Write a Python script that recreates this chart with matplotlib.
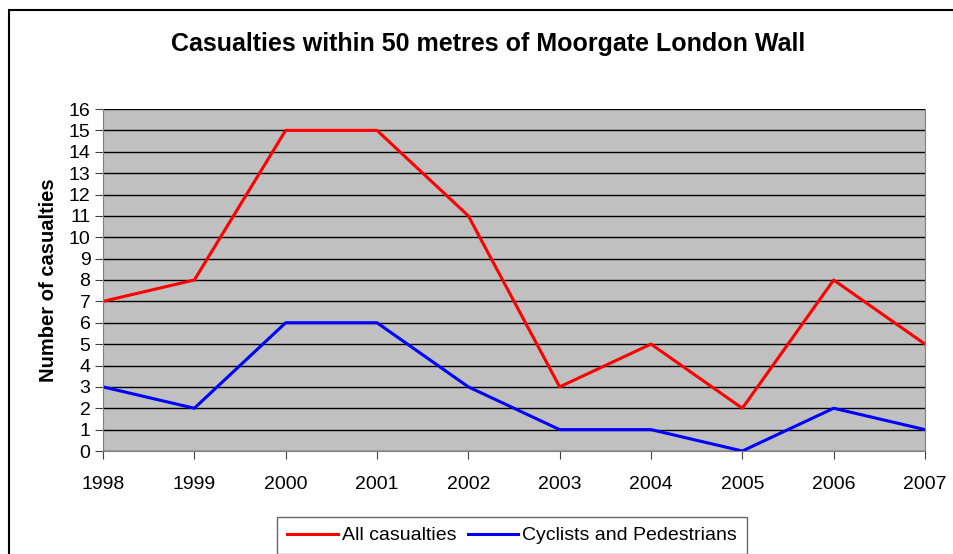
import matplotlib.pyplot as plt
from matplotlib.patches import Rectangle

years = [1998, 1999, 2000, 2001, 2002, 2003, 2004, 2005, 2006, 2007]
all_casualties = [7, 8, 15, 15, 11, 3, 5, 2, 8, 5]
cyclists_pedestrians = [3, 2, 6, 6, 3, 1, 1, 0, 2, 1]

plt.rcParams['font.family'] = ['Liberation Sans', 'DejaVu Sans']

fig = plt.figure(figsize=(9.54, 5.54), dpi=100)
W, H = 954, 554
ax = fig.add_axes([103 / W, 1 - 451 / H, (925 - 103) / W, (451 - 109) / H])

# outer chart border, running off the right and bottom edges
fig.patches.append(Rectangle((9 / W, -0.1), 1.2, 1 - 10 / H + 0.1,
                             transform=fig.transFigure, fill=False,
                             edgecolor='black', linewidth=1.5))

ax.set_facecolor('#c0c0c0')
x = list(range(len(years)))
ax.plot(x, all_casualties, color='#ff0000', linewidth=2.2, label='All casualties')
ax.plot(x, cyclists_pedestrians, color='#0000ff', linewidth=2.2,
        label='Cyclists and Pedestrians')

ax.set_xlim(0, len(years) - 1)
ax.set_ylim(0, 16)
ax.set_yticks(range(17))
ax.set_xticks(x)
ax.set_xticklabels([str(y) for y in years])
ax.yaxis.grid(True, color='black', linewidth=1)
ax.set_axisbelow(True)
for side in ['left', 'bottom']:
    ax.spines[side].set_color('#808080')
ax.spines['top'].set_visible(False)
ax.spines['right'].set_color('#808080')
ax.tick_params(axis='both', labelsize=14, length=6, color='#404040', direction='out')
ax.tick_params(axis='x', pad=12)
ax.tick_params(axis='y', pad=3)

ax.set_ylabel('Number of casualties', fontsize=14.5, fontweight='bold', labelpad=8)
fig.text(488 / W, 1 - 44 / H, 'Casualties within 50 metres of Moorgate London Wall',
         ha='center', va='center', fontsize=18, fontweight='bold')

leg = fig.legend(loc='upper center', bbox_to_anchor=(512 / W, 1 - 517 / H), ncol=2,
                 fontsize=14, frameon=True, fancybox=False, borderaxespad=0,
                 handlelength=2.6, handletextpad=0.2, columnspacing=0.6,
                 borderpad=0.5)
leg.get_frame().set_edgecolor('#404040')
leg.get_frame().set_linewidth(1)

fig.savefig('out.png', dpi=100)
